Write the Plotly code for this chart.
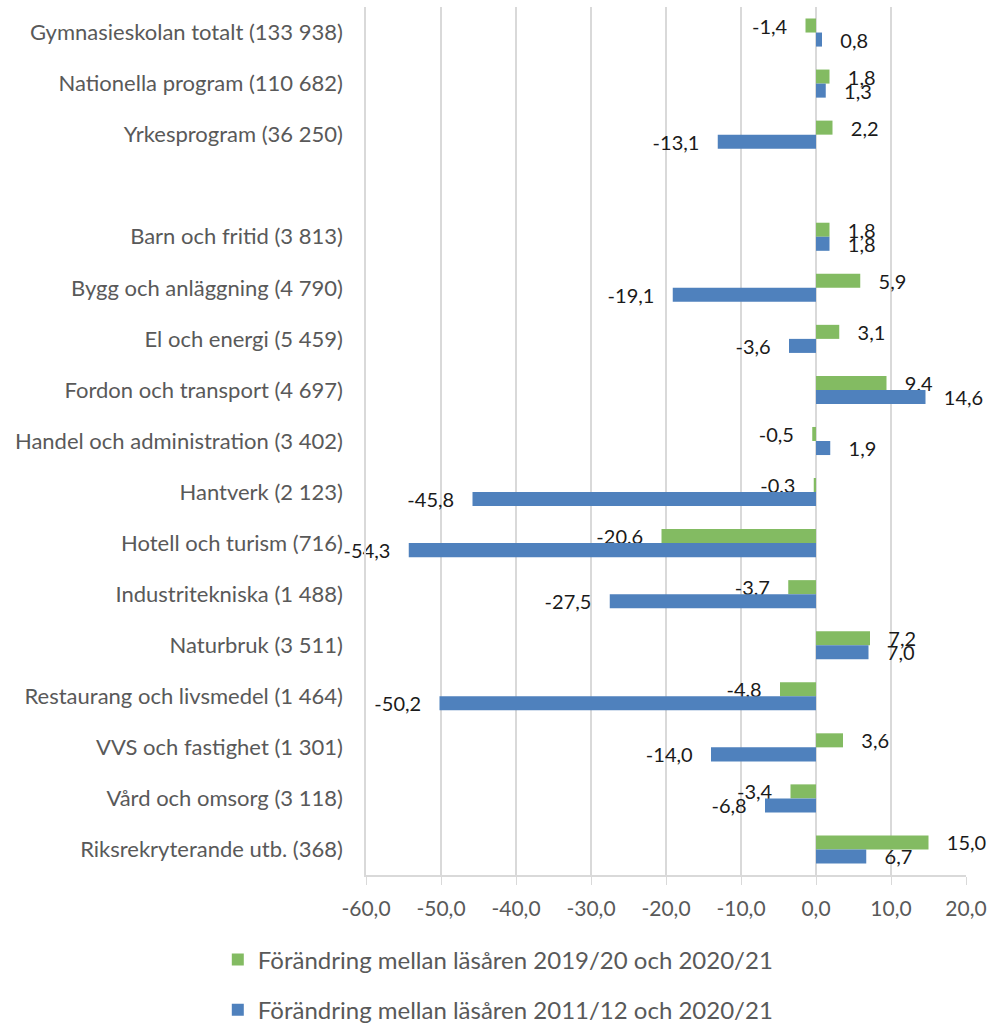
import plotly.graph_objects as go

# categories (the blank one is the gap row in the original chart)
categories = [
    "Gymnasieskolan totalt (133 938)",
    "Nationella program (110 682)",
    "Yrkesprogram (36 250)",
    " ",
    "Barn och fritid (3 813)",
    "Bygg och anläggning (4 790)",
    "El och energi (5 459)",
    "Fordon och transport (4 697)",
    "Handel och administration (3 402)",
    "Hantverk (2 123)",
    "Hotell och turism (716)",
    "Industritekniska (1 488)",
    "Naturbruk (3 511)",
    "Restaurang och livsmedel (1 464)",
    "VVS och fastighet (1 301)",
    "Vård och omsorg (3 118)",
    "Riksrekryterande utb. (368)",
]

change_1y = [-1.4, 1.8, 2.2, None, 1.8, 5.9, 3.1, 9.4, -0.5, -0.3, -20.6, -3.7, 7.2, -4.8, 3.6, -3.4, 15.0]
change_10y = [0.8, 1.3, -13.1, None, 1.8, -19.1, -3.6, 14.6, 1.9, -45.8, -54.3, -27.5, 7.0, -50.2, -14.0, -6.8, 6.7]

x_ticks = [-60, -50, -40, -30, -20, -10, 0, 10, 20]

name_1y = "Förändring mellan läsåren 2019/20 och 2020/21"
name_10y = "Förändring mellan läsåren 2011/12 och 2020/21"

FONT = "Lato"
GREY = "#595959"
PAD = "\u00a0\u00a0\u00a0"  # excel puts the labels a bit further from the bar end


def fmt(vals):
    # swedish style: decimal comma, plain hyphen as minus
    return ["" if v is None else f"{v:.1f}".replace(".", ",") for v in vals]


def bar_labels(vals):
    out = []
    for v, s in zip(vals, fmt(vals)):
        if v is None:
            out.append("")
        elif v < 0:
            out.append(s + PAD)
        else:
            out.append(PAD + s)
    return out


fig = go.Figure()
fig.add_trace(go.Bar(
    y=categories, x=change_1y, orientation="h", name=name_1y,
    marker=dict(color="#83BB62", line=dict(width=0)),
    text=bar_labels(change_1y), textposition="outside", constraintext="none",
    textfont=dict(family=FONT, size=20, color="#1a1a1a"),
    cliponaxis=False, legendgroup="a",
))
fig.add_trace(go.Bar(
    y=categories, x=change_10y, orientation="h", name=name_10y,
    marker=dict(color="#4F81BD", line=dict(width=0)),
    text=bar_labels(change_10y), textposition="outside", constraintext="none",
    textfont=dict(family=FONT, size=20, color="#1a1a1a"),
    cliponaxis=False, legendgroup="b",
))

fig.update_layout(
    width=989, height=1023,
    margin=dict(l=366, r=23, t=7, b=148, autoexpand=False),
    barmode="group", bargap=0.45, bargroupgap=0,
    plot_bgcolor="white", paper_bgcolor="white",
    font=dict(family=FONT, color=GREY),
    legend=dict(
        orientation="v", x=-0.247, xanchor="left",
        y=-0.072, yanchor="top",
        font=dict(family=FONT, size=24, color=GREY),
        traceorder="grouped", tracegroupgap=16,
    ),
)
fig.update_xaxes(
    range=[-60, 20], tickvals=x_ticks, ticktext=fmt(x_ticks),
    showgrid=True, gridcolor="#d9d9d9", gridwidth=1.5,
    zeroline=False, showline=True, linecolor="#d9d9d9", linewidth=1.5,
    ticks="outside", ticklen=8, tickcolor="#d9d9d9",
    tickfont=dict(family=FONT, size=21, color=GREY),
    ticklabelstandoff=6, ticklabeloverflow="allow",
)
fig.update_yaxes(
    autorange="reversed", showgrid=False,
    showline=True, linecolor="#d9d9d9", linewidth=1.5,
    tickfont=dict(family=FONT, size=22, color=GREY),
    ticklabelstandoff=17,
)

# drop the default body margin so the figure fills the window exactly
fig.write_html(
    "out.html",
    config={"displayModeBar": False},
    post_script="document.body.style.margin = '0';",
)
